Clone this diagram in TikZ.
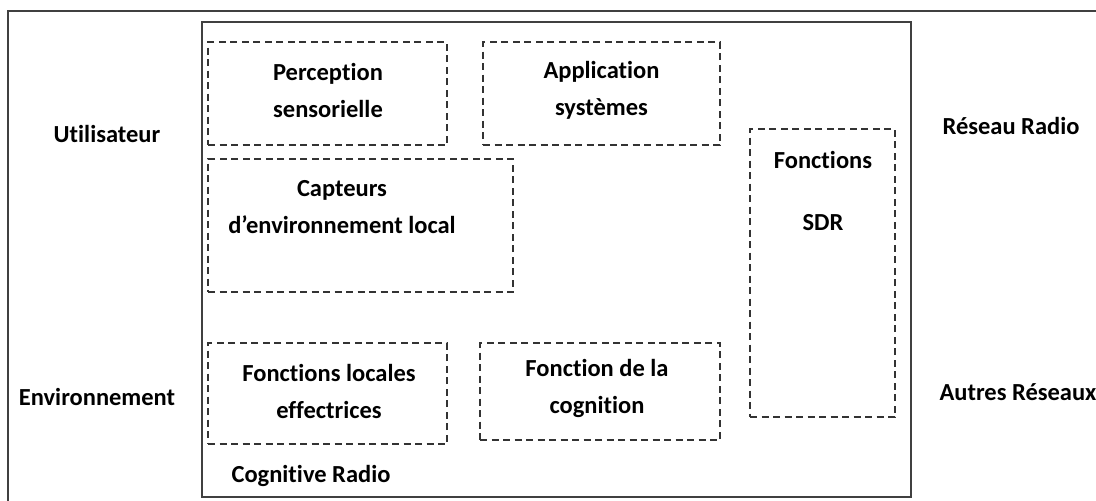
\documentclass[tikz,border=0pt]{standalone}
\usepackage{fontspec}
\setmainfont[Ligatures={NoCommon}]{Carlito}
\usetikzlibrary{positioning}

\begin{document}
\begin{tikzpicture}[
    x=1pt, y=-1pt,
    frame/.style={draw=black!75, line width=1.6pt},
    zone/.style={draw=black!80, dash pattern=on 7pt off 4.5pt, line width=1.5pt, inner sep=0pt},
    txt/.style={font=\fontsize{24.5}{37}\selectfont\bfseries, align=center, inner sep=0pt}
]
    \useasboundingbox (0,0) rectangle (1096,501);

    % Frames
    \draw[frame] (1100,11) -- (8,11) -- (8,505);
    \node[frame, minimum width=709, minimum height=475, inner sep=0pt] (radio) at (556.5,259.5) {};

    % Dashed blocks
    \node[zone, minimum width=239, minimum height=103] (percep) at (327.5,93.5) {};
    \node[zone, minimum width=237, minimum height=103] (appli) at (601.5,93.5) {};
    \node[zone, minimum width=305, minimum height=133] (capt) at (360.5,225.5) {};
    \node[zone, minimum width=239, minimum height=101] (locales) at (327.5,393.5) {};
    \node[zone, minimum width=240, minimum height=97] (cogn) at (600,391.5) {};
    \node[zone, minimum width=145, minimum height=288] (sdr) at (822.5,273) {};

    % Block texts
    \node[txt] (percep_txt) at (328,90) {Perception\\sensorielle};
    \node[txt] (appli_txt) at (601.5,90) {Application\\systèmes};
    \node[txt] (capt_txt) at (342,207) {Capteurs\\d’environnement local};
    \node[txt] (locales_txt) at (329,391) {Fonctions locales\\effectrices};
    \node[txt] (cogn_txt) at (597,388) {Fonction de la\\cognition};
    \node[txt] (sdr_txt) at (823,160) {Fonctions};
    \node[txt] (sdr_name) at ([yshift=-63pt]sdr_txt.center) {SDR};

    % Outside labels
    \node[txt] (user) at (107,134) {Utilisateur};
    \node[txt] (env) at (97,397) {Environnement};
    \node[txt] (net) at (1011,126) {Réseau Radio};
    \node[txt] (others) at (1018,392) {Autres Réseaux};
    \node[txt] (cr) at (311,476) {Cognitive Radio};

\end{tikzpicture}
\end{document}
